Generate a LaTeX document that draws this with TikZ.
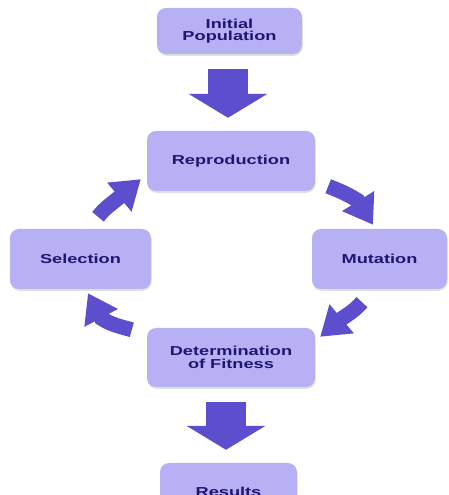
\documentclass[tikz,border=0pt]{standalone}
\usepackage{fontspec}
\newfontfamily\boxfont[FakeStretch=1.4]{Liberation Sans Bold}
\usetikzlibrary{arrows.meta,shadows,calc}
\definecolor{boxfill}{HTML}{B8B0F5}
\definecolor{boxtext}{HTML}{1E1670}
\definecolor{arrowc}{HTML}{5C4ECC}
\definecolor{shadowc}{HTML}{9AA89A}
\begin{document}
\begin{tikzpicture}[x=1pt,y=1pt,
  stage/.style={fill=boxfill, rounded corners=9pt, align=center, text=boxtext,
    font=\boxfont\fontsize{13}{12.5}\selectfont, inner sep=0pt,
    drop shadow={shadow xshift=0.6pt, shadow yshift=-1.8pt, opacity=0.35, fill=shadowc}},
  bigarrow/.style={draw=arrowc, line width=40pt, -{Triangle[length=24pt,width=78pt]}},
  bendarrow/.style={draw=arrowc, line width=15pt, -{Triangle[length=28pt,width=36pt]}}]
\useasboundingbox (0,0) rectangle (448,495);
\node[stage, minimum width=145pt, minimum height=46pt] (init) at (229.5,464) {Initial\\Population};
\node[stage, minimum width=168pt, minimum height=60pt] (rep) at (231,334) {Reproduction};
\node[stage, minimum width=141pt, minimum height=60pt] (sel) at (80.5,236) {Selection};
\node[stage, minimum width=135pt, minimum height=60pt] (mut) at (379.5,236) {Mutation};
\node[stage, minimum width=168pt, minimum height=59pt] (det) at (231,137.5) {Determination\\of Fitness};
\node[stage, minimum width=137pt, minimum height=57pt] (res) at (228.5,3.5) {Results};
\draw[bigarrow, shorten <=15pt, shorten >=13pt] ([xshift=-1.5pt]init.south) -- ([xshift=-1.5pt]init.south |- rep.north);
\draw[bigarrow, shorten <=15pt, shorten >=13pt] ([xshift=-2.5pt]det.south -| res.north) -- ([xshift=-2.5pt]res.north);
\coordinate (a0) at ($(sel.north)+(17.5,12)$);
\coordinate (a1) at ($(rep.south west)+(-6,12)$);
\coordinate (b0) at ($(rep.south east)+(13,5)$);
\coordinate (b1) at ($(mut.north)+(-6.5,4)$);
\coordinate (c0) at ($(mut.south)+(-17.5,-13)$);
\coordinate (c1) at ($(det.north east)+(5,-9)$);
\coordinate (d0) at ($(det.north west)+(-15,-2)$);
\coordinate (d1) at ($(sel.south)+(7.5,-4)$);
\draw[bendarrow] (a0) to[out=52,in=220] ($(a1)+(220:28.5)$) -- (a1);
\draw[bendarrow] (b0) to[out=-22,in=148] ($(b1)+(122:28.5)$) -- (b1);
\draw[bendarrow] (c0) to[out=228,in=34] ($(c1)+(40:28.5)$) -- (c1);
\draw[bendarrow] (d0) to[out=164,in=328] ($(d1)+(298:28.5)$) -- (d1);
\end{tikzpicture}
\end{document}
